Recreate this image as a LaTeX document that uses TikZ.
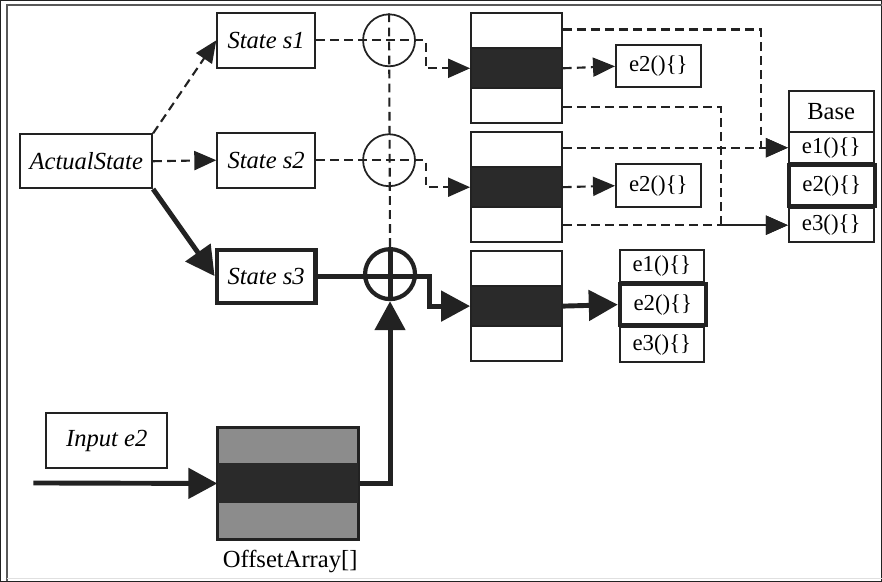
\documentclass[tikz,border=0pt]{standalone}
\usepackage{fontspec}
\setmainfont{Liberation Serif}
\usetikzlibrary{arrows.meta,calc}
\definecolor{ink}{HTML}{222222}
\definecolor{bandfill}{HTML}{2A2A2A}
\definecolor{greyfill}{HTML}{8C8C8C}
\tikzset{
  every path/.style={
    draw=ink
  },
  statebox/.style={
    draw,
    line width=1pt,
    inner sep=0pt,
    font=\fontsize{14}{16}\selectfont\itshape
  },
  cell/.style={
    draw,
    line width=1pt,
    inner sep=0pt,
    font=\fontsize{13}{15}\selectfont
  },
  bold/.style={
    line width=2.4pt
  },
  sum/.style={
    circle,
    draw,
    line width=1pt,
    inner sep=0pt,
    minimum size=1.04cm
  },
  dashline/.style={
    line width=1.2pt,
    dash pattern=on 5pt off 3pt
  },
  thickline/.style={
    line width=2.8pt
  },
  tipthin/.style={
    -{Triangle[length=0.44cm,width=0.38cm]}
  },
  tipthick/.style={
    -{Triangle[length=0.58cm,width=0.6cm]}
  }
}

\begin{document}
\begin{tikzpicture}[x=0.02cm,y=-0.02cm]
    \useasboundingbox (0,0) rectangle (882,581);
    % frame
    \draw[black!65,line width=1.2pt] (7,581) -- (7,5) -- (882,5);
    \draw[black!12,line width=0.6pt] (7,579) -- (882,579);

    % states
    \node[statebox,minimum width=2.64cm,minimum height=1.08cm] (act) at (86,161) {ActualState};
    \node[statebox,minimum width=1.96cm,minimum height=1.1cm] (s1) at (266,40) {State s1};
    \node[statebox,minimum width=1.96cm,minimum height=1.1cm] (s2) at (266,160) {State s2};
    \node[statebox,bold,minimum width=1.98cm,minimum height=1.06cm] (s3) at (266,276) {State s3};

    % adders
    \node[sum] (c1) at (389,40) {};
    \node[sum] (c2) at (389,160) {};
    \node[sum,bold,minimum size=1.0cm] (c3) at (390,274) {};

    % tables
    \foreach \i/\y in {1/68,2/187,3/306} {
        \node[draw,line width=1pt,minimum width=1.82cm,minimum height=2.2cm] (blk\i) at (516.5,\y) {};
        \node[draw,fill=bandfill,line width=1pt,minimum width=1.82cm,minimum height=0.8cm] (band\i) at (516.5,\y) {};
    }

    % functions
    \node[cell,minimum width=1.7cm,minimum height=0.84cm] (f1) at (658.5,66) {e2()\{\}};
    \node[cell,minimum width=1.7cm,minimum height=0.86cm] (f2) at (658.5,185.5) {e2()\{\}};

    \node[cell,minimum width=1.7cm,minimum height=0.82cm,font=\fontsize{14}{16}\selectfont] (base) at (831.5,111.5) {Base};
    \node[cell,minimum width=1.7cm,minimum height=0.62cm] (be1) at (831.5,147.5) {e1()\{\}};
    \node[cell,minimum width=1.7cm,minimum height=0.68cm] (be3) at (831.5,225) {e3()\{\}};
    \node[cell,bold,minimum width=1.72cm,minimum height=0.82cm] (be2) at (832,185.5) {e2()\{\}};

    \node[cell,minimum width=1.68cm,minimum height=0.64cm] (t1) at (662,266) {e1()\{\}};
    \node[cell,minimum width=1.68cm,minimum height=0.7cm] (t3) at (662,344.5) {e3()\{\}};
    \node[cell,bold,minimum width=1.72cm,minimum height=0.82cm] (t2) at (663,304.5) {e2()\{\}};

    % input
    \node[statebox,minimum width=2.42cm,minimum height=1.1cm] (inp) at (106.5,440.5) {Input e2};
    \node[draw,fill=greyfill,line width=1pt,minimum width=2.8cm,minimum height=2.22cm] (off) at (288,483.5) {};
    \node[fill=bandfill,minimum width=2.8cm,minimum height=0.8cm] (offband) at (288,483) {};
    \draw[line width=1pt] (off.north west) rectangle (off.south east);
    \node[font=\fontsize{14}{16}\selectfont] (offlbl) at (290,562) {OffsetArray[]};
    \coordinate (src) at (33,483);

    % edges
    \draw[dashline,tipthin] (act.north east) -- (s1.west);
    \draw[dashline,tipthin] (act.east) -- (s2.west);
    \draw[thickline,tipthick] (act.south east) -- (s3.west);

    \draw[dashline] (c1.north) -- (c3.north);
    \draw[dashline,tipthin] (s1.east) -- ++(110,0) |- (band1.west);
    \draw[dashline,tipthin] (s2.east) -- ++(110,0) |- (band2.west);
    \draw[thickline] (c3.north) -- (c3.south);
    \draw[thickline,tipthick] (s3.east) -- ++(112,0) |- (band3.west);

    \draw[dashline,tipthin] (band1.east) -- (f1.west);
    \draw[dashline,tipthin] (band2.east) -- (f2.west);
    \draw[thickline,tipthick] (band3.east) -- (t2.west);

    \draw[dashline,tipthin] ($(blk1.north east)+(0,17)$) -- ++(198,0) |- (be1.west);
    \draw[dashline,tipthin] ($(blk1.south east)+(0,-17)$) -- ++(158,0) |- (be3.west);
    \draw[dashline,tipthin] (blk2.east |- be1.west) -- (be1.west);
    \draw[dashline,tipthin] (blk2.east |- be3.west) -- (be3.west);

    \draw[thickline,tipthick] (src) -- (off.west);
    \draw[thickline,tipthick] (off.east) -| (c3.south);
\end{tikzpicture}
\end{document}
